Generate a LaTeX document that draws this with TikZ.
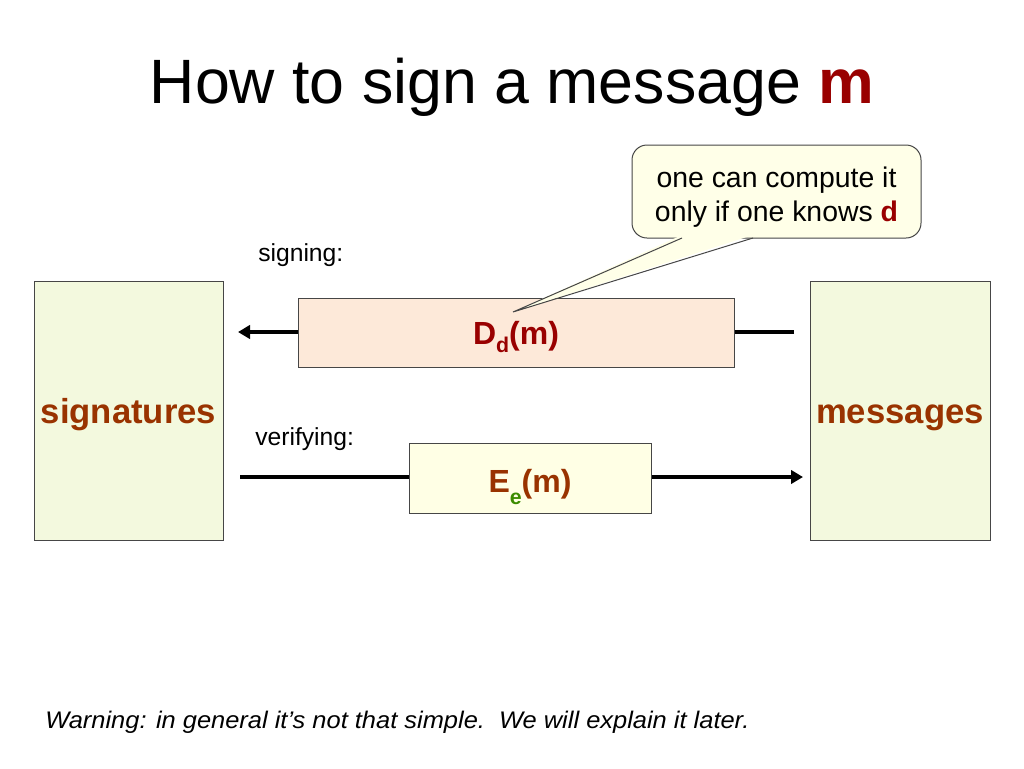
\documentclass[tikz,border=0pt]{standalone}
\usepackage{fontspec}
\setmainfont{Liberation Sans}
\usetikzlibrary{arrows.meta}
\newlength\pxu
\setlength\pxu{0.75pt}
\definecolor{dred}{RGB}{153,0,0}
\definecolor{brown}{RGB}{153,51,0}
\definecolor{sgreen}{RGB}{60,140,0}
\definecolor{boxgreen}{RGB}{243,249,222}
\definecolor{peach}{RGB}{253,233,217}
\definecolor{pyellow}{RGB}{255,255,229}
\definecolor{cyellow}{RGB}{255,255,232}
\definecolor{edge}{RGB}{70,70,70}
\newcommand\lowsub[2]{\raisebox{-#1}{\fontsize{16}{18}\selectfont #2}}
\begin{document}
\begin{tikzpicture}[x=0.75pt,y=-0.75pt,
  setbox/.style={draw=edge,line width=1\pxu,fill=boxgreen,minimum width=#1,minimum height=259\pxu,inner sep=0pt},
  bigtxt/.style={font=\fontsize{26}{30}\selectfont\bfseries,inner sep=0pt,anchor=base},
  fbox/.style={draw=edge,line width=1\pxu,inner sep=0pt},
  flow/.style={line width=3pt},
  tip/.style={-{Triangle[length=9pt,width=10pt]}},
  lbl/.style={font=\fontsize{18.5}{22}\selectfont,inner sep=0pt,anchor=base west}]
\useasboundingbox (0,0) rectangle (1024,768);
% title
\node[font=\fontsize{47}{56}\selectfont,inner sep=0pt,anchor=base] (title) at (512,103) {How to sign a message \textcolor{dred}{\bfseries m}};
% boxes
\node[setbox=189\pxu] (sig) at (128.5,410.5) {};
\node[setbox=180\pxu] (msg) at (900,410.5) {};
\node[bigtxt,text=brown] (sigt) at (128.5,423) {signatures};
\node[bigtxt,text=brown] (msgt) at (900,423) {messages};
\node[fbox,fill=peach,minimum width=436\pxu,minimum height=69\pxu] (D) at (516,332.5) {};
\node[fbox,fill=pyellow,minimum width=242\pxu,minimum height=70\pxu] (E) at (530,478) {};
\node[bigtxt,font=\fontsize{24}{28}\selectfont\bfseries,text=dred] (Dt) at (516,344) {D\lowsub{6.5pt}{d}(m)};
\node[bigtxt,font=\fontsize{24}{28}\selectfont\bfseries,text=brown] (Et) at (530,492) {E\lowsub{9pt}{\textcolor{sgreen}{e}}(m)};
% labels
\node[lbl] (signing) at (258,261) {signing:};
\node[lbl] (verifying) at (255,445) {verifying:};
% arrows
\coordinate (sa) at (794,332);
\coordinate (sb) at (238,332);
\coordinate (va) at (240,477);
\coordinate (vb) at (803,477);
\draw[flow] (sa) -- (sa -| D.east);
\draw[flow,tip] (sb -| D.west) -- (sb);
\draw[flow] (va) -- (va -| E.west);
\draw[flow,tip] (vb -| E.east) -- (vb);
% callout
\node[draw=edge,line width=1\pxu,fill=cyellow,rounded corners=15\pxu,minimum width=289\pxu,minimum height=93\pxu] (call) at (776.5,191.5) {};
\node[align=center,font=\fontsize{21.3}{25.5}\selectfont,inner sep=0pt,anchor=base] (callt) at (776.5,221)
  {one can compute it\\only if one knows \textcolor{dred}{\bfseries d}};
\coordinate (tipp) at (513,312);
\coordinate (p1) at (682,238);
\coordinate (p2) at (753,238);
\fill[cyellow] ([yshift=2.25pt]p1) -- (tipp) -- ([yshift=2.25pt]p2) -- cycle;
\draw[edge,line width=1\pxu] (p1) -- (tipp) -- (p2);
% warning
\node[font=\fontsize{18}{22}\selectfont\itshape,inner sep=0pt,anchor=base west] (warn) at (45,728)
  {\scalebox{1.06}[1]{Warning: in general it’s not that simple.\ \ We will explain it later.}};
\end{tikzpicture}
\end{document}
